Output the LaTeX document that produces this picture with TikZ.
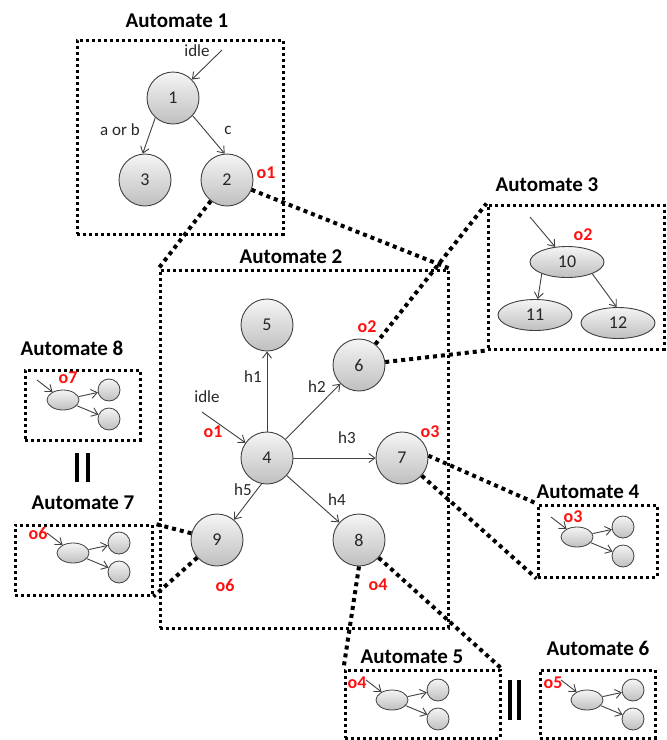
\documentclass[tikz,border=0pt]{standalone}
\usepackage{fontspec}
\setmainfont{Carlito}
\usetikzlibrary{arrows.meta,shapes.geometric}
\definecolor{lnc}{HTML}{404040}
\definecolor{txt}{HTML}{262626}
\definecolor{ored}{HTML}{FF1010}
\tikzset{
 state/.style={circle,draw=lnc,line width=0.9pt,minimum size=52pt,inner sep=0pt,top color=gray!8,bottom color=gray!50,font=\fontsize{18}{18}\selectfont,text=txt},
 estate/.style={ellipse,draw=lnc,line width=0.9pt,minimum width=74pt,minimum height=31pt,inner sep=0pt,top color=gray!8,bottom color=gray!50,font=\fontsize{18}{18}\selectfont,text=txt},
 miniell/.style={ellipse,draw=lnc,line width=0.8pt,minimum width=32pt,minimum height=20pt,inner sep=0pt,top color=gray!8,bottom color=gray!50},
 minicirc/.style={circle,draw=lnc,line width=0.8pt,minimum size=22pt,inner sep=0pt,top color=gray!8,bottom color=gray!50},
 arr/.style={draw=lnc,line width=0.9pt,-{Straight Barb[length=6pt,width=9pt]}},
 autobox/.style={draw=black,line width=3pt,dash pattern=on 3pt off 3pt,inner sep=0pt,rectangle},
 link/.style={draw=black,line width=4pt,dash pattern=on 4pt off 4pt},
 ttl/.style={font=\bfseries\fontsize{21}{21}\selectfont,text=black},
 lbl/.style={font=\fontsize{17}{17}\selectfont,text=txt},
 olbl/.style={font=\bfseries\fontsize{18}{18}\selectfont,text=ored},
 mini/.pic={
  \node[miniell] (-e) at (0,0) {};
  \node[minicirc] (-a) at (46,-10) {};
  \node[minicirc] (-b) at (46,19) {};
  \coordinate (-in) at (-26,-20);
  \draw[arr] (-in) -- (-e);
  \draw[arr] (-e) -- (-a);
  \draw[arr] (-e) -- (-b);
 }
}
\begin{document}
\begin{tikzpicture}[x=1pt,y=-1pt]
\useasboundingbox (0,0) rectangle (667,740);
% boxes
\node[autobox,minimum width=206pt,minimum height=194pt] (A1) at (180,137) {};
\node[autobox,minimum width=288pt,minimum height=358pt] (A2) at (304,449) {};
\node[autobox,minimum width=176pt,minimum height=144pt] (A3) at (576,277) {};
\node[autobox,minimum width=119pt,minimum height=72pt] (A4) at (597.5,541) {};
\node[autobox,minimum width=155pt,minimum height=68pt] (A5) at (422.5,704) {};
\node[autobox,minimum width=115pt,minimum height=68pt] (A6) at (597.5,704) {};
\node[autobox,minimum width=137pt,minimum height=70pt] (A7) at (83.5,560) {};
\node[autobox,minimum width=115pt,minimum height=70pt] (A8) at (82.5,405) {};
% titles
\node[ttl] (t1) at (177,21) {Automate 1};
\node[ttl] (t2) at (291,257) {Automate 2};
\node[ttl] (t3) at (547,185) {Automate 3};
\node[ttl] (t4) at (588,492) {Automate 4};
\node[ttl] (t5) at (412,657) {Automate 5};
\node[ttl] (t6) at (598,648) {Automate 6};
\node[ttl] (t7) at (83,503) {Automate 7};
\node[ttl] (t8) at (72,348) {Automate 8};
% Automate 1
\node[state] (n1) at (173,98) {1};
\node[state] (n3) at (145,180) {3};
\node[state] (n2) at (227,180) {2};
\coordinate (i1) at (222,50);
\draw[arr] (i1) -- (n1);
\draw[arr] (n1.228) -- (n3.95);
\draw[arr] (n1.-42) -- (n2.95);
\node[lbl] (l1) at (197,51) {idle};
\node[lbl] (l2) at (120,130) {a or b};
\node[lbl] (l3) at (228,130) {c};
\node[olbl] (o1a) at (266,173) {o1};
% Automate 2
\node[state] (n5) at (267,325) {5};
\node[state] (n6) at (359,365) {6};
\node[state] (n4) at (267,458) {4};
\node[state] (n7) at (402,458) {7};
\node[state] (n9) at (217,540) {9};
\node[state] (n8) at (359,540) {8};
\coordinate (i4) at (202,412);
\draw[arr] (i4) -- (n4);
\draw[arr] (n4) -- (n5);
\draw[arr] (n4) -- (n6);
\draw[arr] (n4) -- (n7);
\draw[arr] (n4) -- (n8);
\draw[arr] (n4.258) -- (n9.50);
\node[lbl] (h1) at (253,377) {h1};
\node[lbl] (h2) at (317,387) {h2};
\node[lbl] (h3) at (347,438) {h3};
\node[lbl] (h4) at (337,500) {h4};
\node[lbl] (h5) at (243,490) {h5};
\node[lbl] (l4) at (207,397) {idle};
\node[olbl] (o1b) at (213,432) {o1};
\node[olbl] (o2b) at (367,327) {o2};
\node[olbl] (o3b) at (430,432) {o3};
\node[olbl] (o4b) at (378,585) {o4};
\node[olbl] (o6b) at (225,585) {o6};
% Automate 3
\node[estate] (e10) at (567,262) {10};
\node[estate] (e11) at (535,315) {11};
\node[estate] (e12) at (618,323) {12};
\coordinate (i10) at (530,217);
\draw[arr] (i10) -- (e10.128);
\draw[arr] (e10.205) -- (e11.80);
\draw[arr] (e10.-25) -- (e12.95);
\node[olbl] (o2c) at (583,235) {o2};
% mini automata
\pic (m8) at (63,400) {mini};
\pic (m7) at (73,553) {mini};
\pic (m4) at (577,537) {mini};
\pic (m5) at (392,700) {mini};
\pic (m6) at (587,700) {mini};
\node[olbl] (o7m) at (68,378) {o7};
\node[olbl] (o6m) at (38,533) {o6};
\node[olbl] (o3m) at (573,517) {o3};
\node[olbl] (o4m) at (357,683) {o4};
\node[olbl] (o5m) at (553,683) {o5};
% equality bars
\draw[line width=4pt] (77,453) -- (77,482) (88,453) -- (88,482);
\draw[line width=4pt] (510,680) -- (510,720) (519,680) -- (519,720);
% dotted links
\draw[link] (n2) -- (A2.north west);
\draw[link] (n2) -- (A2.north east);
\draw[link] (n6) -- (A3.north west);
\draw[link] (n6) -- (A3.south west);
\draw[link] (n7.5) -- (A4.north west);
\draw[link] (n7) -- (A4.south west);
\draw[link] (n9) -- (A7.north east);
\draw[link] (n9) -- (A7.south east);
\draw[link] (n8.south) -- (A5.north west);
\draw[link] (n8) -- (A5.north east);
\end{tikzpicture}
\end{document}
